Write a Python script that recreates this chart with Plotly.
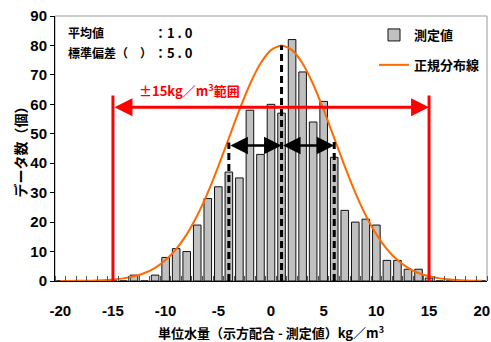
import plotly.graph_objects as go

# ---------------- data ----------------
categories = list(range(-20, 21))
measured_counts = [0, 0, 0, 0, 0, 0, 0, 2, 0, 2, 8, 11, 10, 19, 28, 32, 37, 35, 58, 43,
                   60, 57, 82, 71, 54, 61, 42, 24, 20, 21, 19, 7, 7, 4, 4, 1, 0, 0, 0, 0, 0]
normal_curve = [0.01, 0.03, 0.06, 0.12, 0.25, 0.48, 0.89, 1.59, 2.72, 4.49, 7.11, 10.83,
                15.83, 22.24, 30.03, 38.94, 48.52, 58.09, 66.82, 73.85, 78.42, 80.0,
                78.42, 73.85, 66.82, 58.09, 48.52, 38.94, 30.03, 22.24, 15.83, 10.83,
                7.11, 4.49, 2.72, 1.59, 0.89, 0.48, 0.25, 0.12, 0.06]
x_tick_values = [-20, -15, -10, -5, 0, 5, 10, 15, 20]
x_tick_labels = ["-20", "-15", "-10", "-5", "0", "5", "10", "15", "20"]
y_tick_values = [0, 10, 20, 30, 40, 50, 60, 70, 80, 90]

range_limits = [-15, 15]          # ±15 kg/m3 range
range_line_top = 63
range_arrow_level = 59
sd_marks = [-4, 1, 6]             # mean - sd, mean, mean + sd
sd_mark_tops = [47, 80, 48]
sd_arrow_level = 46

series_names = ["測定値", "正規分布線"]
stats_labels = ["平均値", "標準偏差（　）"]
stats_values = ["：1 . 0", "：5 . 0"]

NUM_FONT = "Liberation Sans Narrow, Arial Narrow, Liberation Sans, Arial, sans-serif"
JP_FONT = "Noto Sans CJK JP, Noto Sans, sans-serif"

fig = go.Figure()
fig.add_trace(go.Bar(
    x=categories, y=measured_counts, name=series_names[0],
    marker=dict(color="#C0C0C0", line=dict(color="#111111", width=1)),
    legendgroup="a",
))
fig.add_trace(go.Scatter(
    x=categories, y=normal_curve, name=series_names[1], mode="lines",
    line=dict(color="#FF6A00", width=2, shape="spline", smoothing=0.6),
    legendgroup="b",
))

shapes = []
shapes.append(dict(type="rect", xref="paper", yref="paper", x0=0, x1=1, y0=0, y1=1,
                   line=dict(color="#999999", width=1), layer="below"))
for v in range_limits:
    shapes.append(dict(type="line", xref="x", yref="y", x0=v, x1=v, y0=0, y1=range_line_top,
                       line=dict(color="#FF0000", width=3)))
for v, top in zip(sd_marks, sd_mark_tops):
    shapes.append(dict(type="line", xref="x", yref="y", x0=v, x1=v, y0=0, y1=top,
                       line=dict(color="black", width=3, dash="7px,4px")))

annotations = []
annotations.append(dict(x=range_limits[1], y=range_arrow_level, ax=range_limits[0], ay=range_arrow_level,
                        xref="x", yref="y", axref="x", ayref="y", text="", showarrow=True,
                        arrowhead=2, arrowside="end+start", arrowsize=1.2, arrowwidth=3,
                        arrowcolor="#FF0000", standoff=0, startstandoff=0))
for a, b in [(sd_marks[0], sd_marks[1]), (sd_marks[1], sd_marks[2])]:
    annotations.append(dict(x=b, y=sd_arrow_level, ax=a, ay=sd_arrow_level,
                            xref="x", yref="y", axref="x", ayref="y", text="", showarrow=True,
                            arrowhead=2, arrowside="end+start", arrowsize=1.4, arrowwidth=2.5,
                            arrowcolor="black", standoff=0, startstandoff=0))
annotations.append(dict(x=-12.7, y=64.7, xref="x", yref="y", xanchor="left", yanchor="middle",
                        text="±15kg／m<sup>3</sup>範囲", showarrow=False,
                        font=dict(family=JP_FONT, size=13, color="#FF0000", weight="bold")))
for i, (lab, val) in enumerate(zip(stats_labels, stats_values)):
    py = 33 + 20 * i
    yp = (281.5 - py) / 265.5
    annotations.append(dict(x=(66 - 55) / 432, y=yp, xref="paper", yref="paper",
                            xanchor="left", yanchor="middle", text=lab, showarrow=False,
                            font=dict(family=JP_FONT, size=12, color="black", weight="bold")))
    annotations.append(dict(x=(152 - 55) / 432, y=yp, xref="paper", yref="paper",
                            xanchor="left", yanchor="middle", text=val, showarrow=False,
                            font=dict(family=JP_FONT, size=13, color="black", weight="bold")))

fig.update_layout(
    width=491, height=342,
    margin=dict(l=55, r=4, t=16, b=60.5, autoexpand=False),
    paper_bgcolor="white", plot_bgcolor="white",
    bargap=0.28,
    showlegend=True,
    legend=dict(x=(374 - 55) / 432, y=(281.5 - 20) / 265.5, xanchor="left", yanchor="top",
                bgcolor="rgba(0,0,0,0)", font=dict(family=JP_FONT, size=13, color="black", weight="bold"),
                traceorder="grouped", tracegroupgap=10, itemwidth=30),
    shapes=shapes,
    annotations=annotations,
    xaxis=dict(
        range=[-20.5, 20.5], tickmode="array", tickvals=x_tick_values, ticktext=x_tick_labels,
        showgrid=False, zeroline=False, showline=True, linecolor="black", linewidth=1,
        ticks="", ticklabelstandoff=16, automargin=False,
        tickfont=dict(family=NUM_FONT, size=15, color="black", weight="bold"),
        minor=dict(tick0=0.5, dtick=1, ticks="inside", ticklen=5, tickcolor="#555555", tickwidth=1),
        title=dict(text="単位水量（示方配合 - 測定値）kg／m<sup>3</sup>", standoff=12,
                   font=dict(family=JP_FONT, size=13, color="black", weight="bold")),
    ),
    yaxis=dict(
        range=[0, 90], tickmode="array", tickvals=y_tick_values,
        showgrid=False, zeroline=False, showline=True, linecolor="black", linewidth=1,
        ticks="outside", ticklen=4, tickcolor="black", automargin=False,
        tickfont=dict(family=NUM_FONT, size=15, color="black", weight="bold"),
        title=dict(text="データ数（個）", standoff=0,
                   font=dict(family=JP_FONT, size=14, color="black", weight="bold")),
    ),
)

fig.write_html("out.html", config={"displayModeBar": False},
               post_script="document.body.style.margin='0';document.body.style.padding='0';")
